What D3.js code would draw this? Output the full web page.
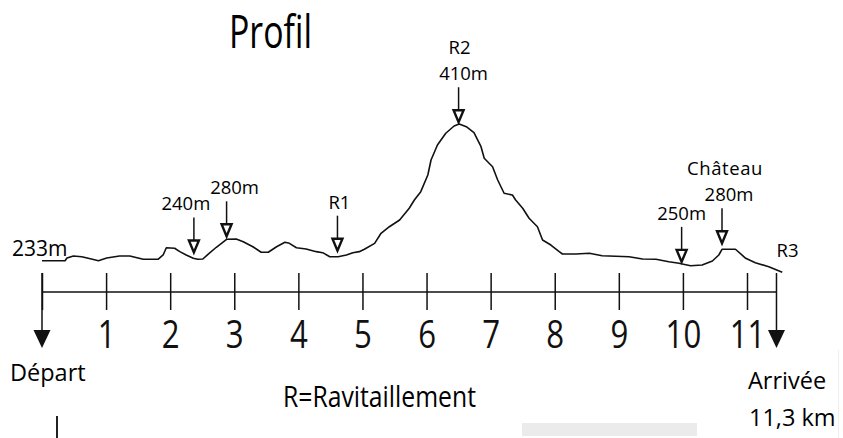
<!DOCTYPE html>
<html>
<head>
<meta charset="utf-8">
<script src="https://cdn.jsdelivr.net/npm/d3@7"></script>
<style>
  body { margin: 0; background: #fff; }
  svg { display: block; font-family: "Open Sans", sans-serif; }
</style>
</head>
<body>
<div id="chart"></div>
<script>
// profile: distance (km) and altitude (m)
const km = [0, 0.36, 0.39, 0.49, 0.62, 0.77, 0.88, 1.01, 1.21, 1.37, 1.58, 1.81, 1.89, 1.94, 2.07, 2.15, 2.25, 2.36, 2.43,
  2.51, 2.59, 2.72, 2.88, 3.03, 3.14, 3.29, 3.42, 3.53, 3.66, 3.79, 3.86, 3.97, 4.12, 4.28, 4.38, 4.49, 4.62, 4.75, 4.85, 4.95,
  5.03, 5.19, 5.29, 5.42, 5.58, 5.73, 5.81, 5.91, 6.02, 6.07, 6.17, 6.30, 6.43, 6.51, 6.62, 6.74, 6.85, 6.90, 7.03, 7.11, 7.21,
  7.34, 7.39, 7.50, 7.60, 7.73, 7.81, 7.94, 8.07, 8.12, 8.33, 8.54, 8.74, 9.16, 9.37, 9.58, 9.78, 9.94, 9.99, 10.12, 10.30,
  10.46, 10.56, 10.61, 10.82, 10.98, 11.13, 11.34, 11.55]
const altitude = [233, 233, 236.5, 239.1, 238.2, 235.2, 233, 236.5, 239.1, 239.1, 234.8, 234.8, 240.4, 249.8, 249.1, 244.7, 240.4, 236.1, 234.8,
  235.2, 241.3, 250.4, 260.7, 261.1, 257.6, 251.1, 243.9, 243.9, 251.1, 256.8, 255.5, 249.8, 248.2, 244.7, 243.4, 238.2, 238.2, 240.4, 243.4, 244.7,
  247.8, 255.5, 268.5, 277, 285.7, 300.9, 311.6, 322.4, 344, 363.4, 382.8, 398, 407.4, 410, 406.5, 398.8, 380.6, 365.6, 354.7, 337.5, 320.3,
  318.1, 311.6, 300.9, 287.9, 277, 259.8, 253.3, 244.7, 241.7, 241.7, 242.6, 239.5, 238.2, 235.2, 234.8, 231.7, 229.6, 228.7, 226.5, 227.4,
  232.6, 240.4, 247.8, 247.8, 236.1, 230.4, 225.2, 218]

const kmTicks = [0, 1, 2, 3, 4, 5, 6, 7, 8, 9, 10, 11]
const tickLabels = ["", "1", "2", "3", "4", "5", "6", "7", "8", "9", "10", "11"]
const axisEndKm = 11.46

const markerKm = [2.37, 2.88, 4.61, 6.5, 9.98, 10.61]
const markerLabels = [["240m"], ["280m"], ["R1"], ["R2", "410m"], ["250m"], ["Château", "280m"]]

const startLabel = "233m"
const endLabel = "R3"
const title = "Profil"
const legend = "R=Ravitaillement"

const width = 843
const height = 438

const svg = d3.select("#chart").append("svg").attr("width", width).attr("height", height)

const x = d3.scaleLinear().domain([0, 11]).range([42, 747])
const y = d3.scaleLinear().domain([233, 410]).range([260.7, 124])
const axisY = 292

// title
svg.append("text")
  .attr("x", 229).attr("y", 48)
  .attr("font-size", 46)
  .attr("textLength", 83).attr("lengthAdjust", "spacingAndGlyphs")
  .text(title)

// elevation profile
const points = km.map((d, i) => [d, altitude[i]])
svg.append("path")
  .datum(points)
  .attr("fill", "none")
  .attr("stroke", "#111")
  .attr("stroke-width", 1.6)
  .attr("stroke-linejoin", "round")
  .attr("d", d3.line().x((d) => x(d[0])).y((d) => y(d[1])))

svg.append("text")
  .attr("x", x(0) - 30).attr("y", y(233) - 4.5)
  .attr("font-size", 21)
  .text(startLabel)

svg.append("text")
  .attr("x", x(axisEndKm)).attr("y", y(altitude[altitude.length - 1]) - 15)
  .attr("font-size", 18.5)
  .text(endLabel)

// markers: small arrow with hollow head
const labelShift = [-8, 8, 2, 5, 0, 7]
const tipGap = [6, 3, 6, 2, 2, 6]
const altAt = (k) => {
  const i = d3.bisectLeft(km, k)
  const t = (k - km[i - 1]) / (km[i] - km[i - 1])
  return altitude[i - 1] + t * (altitude[i] - altitude[i - 1])
}

markerKm.forEach((k, i) => {
  const cx = x(k)
  const tip = y(altAt(k)) - tipGap[i]
  const top = tip - 35
  const g = svg.append("g")
  g.append("line")
    .attr("x1", cx).attr("x2", cx)
    .attr("y1", top).attr("y2", tip - 4)
    .attr("stroke", "#111").attr("stroke-width", 1.5)
  g.append("path")
    .attr("d", `M${cx - 5},${tip - 12}L${cx + 5},${tip - 12}L${cx},${tip}Z`)
    .attr("fill", "#fff").attr("stroke", "#111").attr("stroke-width", 2.4)
    .attr("stroke-linejoin", "miter")
  const lines = markerLabels[i]
  lines.forEach((s, j) => {
    g.append("text")
      .attr("x", cx + labelShift[i] + (j < lines.length - 1 ? -4 : 0))
      .attr("y", top - 7 - (lines.length - 1 - j) * 26)
      .attr("text-anchor", "middle")
      .attr("font-size", 18.5)
      .attr("letter-spacing", s === "Château" ? 0.6 : 0)
      .text(s)
  })
})

// distance axis, ticks cross the line
const axis = svg.append("g")
  .attr("transform", `translate(0,${axisY})`)
  .call(d3.axisBottom(x).tickValues(kmTicks).tickSize(18).tickFormat((d, i) => tickLabels[i]).tickPadding(0))
axis.select(".domain").remove()
axis.selectAll(".tick line").attr("y1", -19).attr("stroke", "#111").attr("stroke-width", 1.5)
axis.selectAll(".tick text")
  .attr("y", 56).attr("dy", 0)
  .attr("fill", "#111")
  .attr("font-family", '"Open Sans", sans-serif')
  .attr("font-size", 39)
  .attr("transform", "scale(0.8,1)")
axis.append("line")
  .attr("x1", x(0)).attr("x2", x(axisEndKm))
  .attr("stroke", "#111").attr("stroke-width", 1.6)

// start / finish arrows
;[0, axisEndKm].forEach((k) => {
  const cx = x(k)
  svg.append("line")
    .attr("x1", cx).attr("x2", cx)
    .attr("y1", axisY - 19).attr("y2", 332)
    .attr("stroke", "#111").attr("stroke-width", 1.5)
  svg.append("path")
    .attr("d", `M${cx - 8.5},330L${cx + 8.5},330L${cx},348Z`)
    .attr("fill", "#111")
})

svg.append("text")
  .attr("x", 10).attr("y", 381)
  .attr("font-size", 23.5)
  .text("Départ")

svg.append("text")
  .attr("x", 748).attr("y", 389)
  .attr("font-size", 23.5)
  .text("Arrivée")

svg.append("text")
  .attr("x", 749).attr("y", 426)
  .attr("font-size", 23.5)
  .text("11,3 km")

svg.append("text")
  .attr("x", 283).attr("y", 407)
  .attr("font-size", 29)
  .attr("textLength", 193).attr("lengthAdjust", "spacingAndGlyphs")
  .text(legend)

// scan leftovers in the original picture
svg.append("rect").attr("x", 522).attr("y", 423).attr("width", 175).attr("height", 13).attr("fill", "#ebebeb")
svg.append("rect").attr("x", 56).attr("y", 416).attr("width", 2).attr("height", 22).attr("fill", "#222")
svg.append("rect").attr("x", 838).attr("y", 350).attr("width", 1).attr("height", 88).attr("fill", "#eeeeee")
</script>
</body>
</html>
